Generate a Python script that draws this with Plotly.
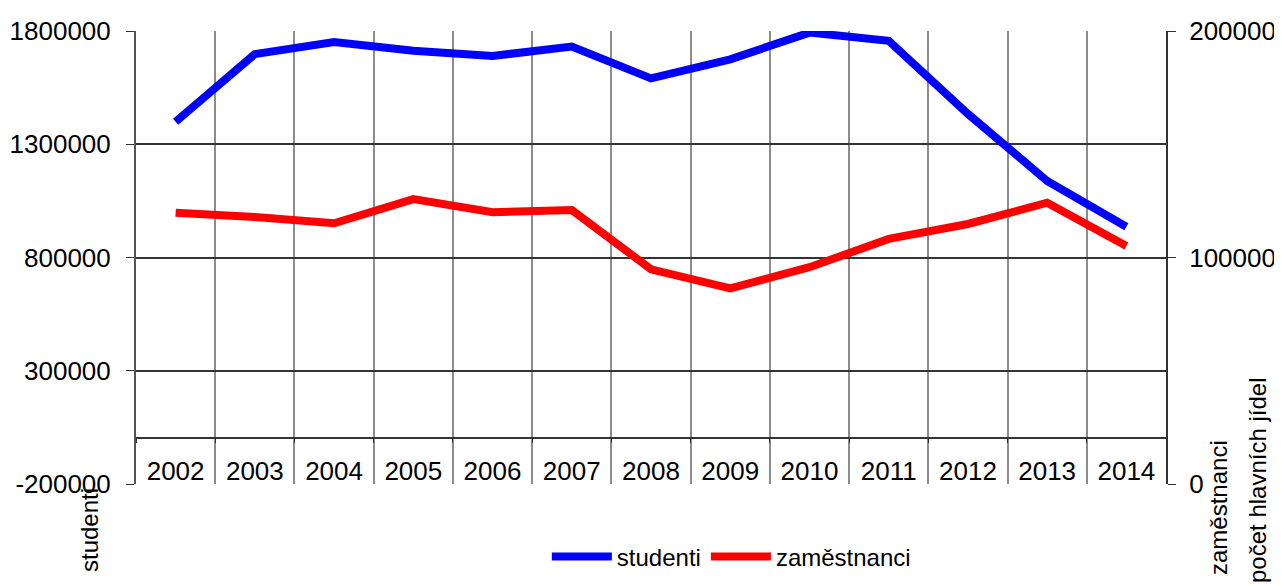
import plotly.graph_objects as go

years = ["2002", "2003", "2004", "2005", "2006", "2007", "2008",
         "2009", "2010", "2011", "2012", "2013", "2014"]
studenti = [1399500, 1698000, 1751000, 1713000, 1690000, 1731000, 1591000,
            1675000, 1793000, 1757000, 1434000, 1138000, 936000]
zamestnanci = [119800, 117900, 115100, 125800, 120000, 121000, 94800,
               86400, 95700, 108200, 114800, 124200, 105100]

left_ticks = [-200000, 300000, 800000, 1300000, 1800000]
right_ticks = [0, 100000, 200000]

FONT = "Liberation Sans, Arial, sans-serif"

# the page body has an 8px margin, so the figure is sized to fill the window
fig = go.Figure()
fig.add_trace(go.Scatter(x=years, y=studenti, name="studenti", mode="lines",
                         line=dict(color="#0000ff", width=8), yaxis="y"))
fig.add_trace(go.Scatter(x=years, y=zamestnanci, name="zaměstnanci", mode="lines",
                         line=dict(color="#ff0000", width=8), yaxis="y2"))

fig.update_layout(
    width=1274, height=578,
    margin=dict(l=128, r=116, t=23, b=102, autoexpand=False),
    paper_bgcolor="white", plot_bgcolor="white",
    font=dict(family=FONT, size=24, color="black"),
    showlegend=True,
    legend=dict(orientation="h", x=0.578, xanchor="center", y=-0.161, yanchor="middle",
                font=dict(size=24), bgcolor="rgba(0,0,0,0)", itemwidth=60,
                tracegroupgap=0),
    xaxis=dict(type="category", anchor="free", position=46 / 453,
               showline=True, linecolor="#333333", linewidth=1.5,
               showgrid=True, gridcolor="#8c8c8c", gridwidth=2,
               tickson="boundaries", ticks="outside", ticklen=4, tickcolor="#333333",
               tickfont=dict(size=26), ticklabelstandoff=10,
               range=[-0.5, 12.5], zeroline=False, fixedrange=True, automargin=False),
    yaxis=dict(range=[-200000, 1800000], tickvals=left_ticks,
               ticktext=[str(v) for v in left_ticks],
               showgrid=True, gridcolor="#333333", gridwidth=1.5,
               showline=True, linecolor="#555555", linewidth=2,
               ticks="outside", ticklen=8, tickcolor="#333333",
               tickfont=dict(size=26), ticklabelstandoff=10,
               zeroline=False, automargin=False),
    yaxis2=dict(range=[0, 200000], tickvals=right_ticks,
                ticktext=[str(v) for v in right_ticks],
                overlaying="y", side="right", anchor="x",
                showgrid=False, showline=True, linecolor="#333333", linewidth=2,
                ticks="outside", ticklen=8, tickcolor="#333333",
                tickfont=dict(size=26), ticklabelstandoff=8, zeroline=False,
                automargin=False),
)

fig.add_annotation(text="studenti", textangle=-90, xref="paper", yref="paper",
                   x=(89 - 136) / 1030, y=(484 - 530) / 453,
                   xanchor="center", yanchor="middle", showarrow=False,
                   font=dict(size=24))
fig.add_annotation(text="zaměstnanci", textangle=-90, xref="paper", yref="paper",
                   x=(1218 - 136) / 1030, y=(484 - 508) / 453,
                   xanchor="center", yanchor="middle", showarrow=False,
                   font=dict(size=24))
fig.add_annotation(text="počet hlavních jídel", textangle=-90, xref="paper", yref="paper",
                   x=(1257 - 136) / 1030, y=(484 - 481) / 453,
                   xanchor="center", yanchor="middle", showarrow=False,
                   font=dict(size=24))

fig.write_html("out.html")
